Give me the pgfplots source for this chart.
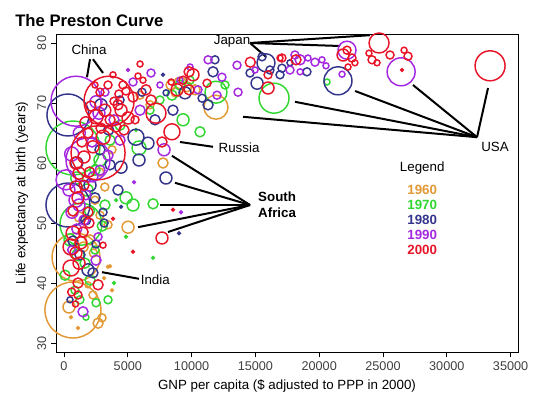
\documentclass[border=0pt]{standalone}
\usepackage{fontspec}
\setmainfont{Liberation Sans}
\usepackage{pgfplots}
\usepackage{pgfplotstable}
\pgfplotsset{compat=1.18}
\definecolor{c1960}{RGB}{226,152,52}
\definecolor{c1970}{RGB}{50,215,50}
\definecolor{c1980}{RGB}{52,52,140}
\definecolor{c1990}{RGB}{165,40,225}
\definecolor{c2000}{RGB}{232,20,40}

\pgfplotstableread{
x y r
700 35.5 28
940 44.3 24
11910 69.3 12
9090 73.3 6
9640 72.7 5
10270 72.2 5
8390 73.0 5
8780 71.8 5
7760 60.0 5
5020 49.3 6
3450 42.7 1.3
3140 40.8 1.3
390 36.0 6
2270 38.0 4
2670 33.3 5
1100 32.5 1.3
550 34.3 1.3
2980 34.2 4
5960 71.3 4
6740 69.7 4
3760 62.2 4
2430 53.8 4
2820 51.3 4
2040 47.2 5
3450 49.7 4
1880 39.7 3
3610 42.8 1.3
3760 38.8 1.3
1500 46.0 5
2300 45.0 4
1200 51.0 5
3200 56.0 4
2800 58.5 4
}\tA

\pgfplotstableread{
x y r
700 62.5 27
1330 49.8 21
16460 70.8 15
11910 71.8 11
9330 67.2 6
10660 65.2 5
20610 73.5 3
5880 62.5 7
5640 65.5 1.3
4860 54.2 6
5410 53.0 6
6980 53.2 5
4080 53.8 1.3
4860 47.7 1.3
6980 44.2 1.3
3920 40.0 1.3
3450 37.2 4
2510 36.7 4
1720 34.3 3
470 47.2 6
1100 44.7 6
1650 43.3 5
80 41.3 5
2040 40.5 5
860 38.8 4
1250 37.2 4
2430 45.5 4
9090 73.0 5
8460 71.3 5
9880 73.8 4
12620 73.0 4
4390 66.3 5
3610 63.8 5
2820 60.5 6
2430 58.8 5
6740 68.8 4
7520 70.5 4
3210 53.0 5
1800 55.5 6
1000 57.5 6
3000 49.5 5
2000 52.0 5
}\tB

\pgfplotstableread{
x y r
310 68.0 21
310 53.0 22
21470 73.7 14
15830 76.7 9
11830 77.2 4
11680 75.2 5
17080 75.8 4
16930 74.7 4
14580 75.0 4
15130 73.3 6
9480 71.7 6
10820 70.8 4
11290 69.7 5
8540 68.8 5
15520 77.7 4
16140 75.5 4
19040 75.2 4
17710 76.7 3
7760 74.7 1.3
5640 64.3 8
6580 63.3 6
5880 60.5 6
7990 57.5 6
4470 59.3 6
4470 52.7 1.3
3060 51.8 4
1880 42.2 6
2270 41.7 5
9010 48.3 1.3
3140 50.0 4
6110 71.8 4
4390 70.5 4
7130 67.2 5
2820 62.2 5
3610 59.7 5
2040 56.3 6
2430 54.2 5
4230 55.5 5
470 37.2 3
1250 44.7 5
2900 69.7 6
8000 71.7 3
1000 60.0 6
1700 50.5 5
700 47.0 5
2500 46.5 4
3500 65.5 5
}\tC

\pgfplotstableread{
x y r
940 70.3 25
1880 60.5 22
26420 75.2 14
22180 78.8 9
18100 78.0 4
18500 77.2 5
19120 77.5 3
19670 76.8 4
20220 77.2 3
17710 75.5 4
18500 75.2 3
20530 76.2 3
21790 74.8 3
12380 74.3 4
13560 76.3 4
14970 75.5 3
11990 71.3 4
13640 71.8 4
10500 72.2 4
5020 75.5 1.3
6820 75.0 4
5410 73.5 4
2510 70.2 6
2740 68.3 6
3920 67.2 5
7840 62.2 6
5490 56.8 1.3
390 55.5 6
940 53.8 7
1720 54.7 5
630 51.8 6
1570 50.5 5
1180 53.0 6
2510 43.8 5
1490 35.2 5
9170 51.8 1.3
11290 77.2 4
5960 68.8 5
4390 63.8 5
3450 61.3 5
2820 58.8 5
2270 57.7 5
3210 71.8 4
7520 73.0 3
9090 73.8 3
9880 76.0 3
160 57.2 10
2670 47.7 4
1200 65.0 6
600 61.5 7
2200 63.5 5
1000 49.0 5
600 45.5 4
}\tD

\pgfplotstableread{
x y r
3530 70.3 25
2670 61.7 27
33390 76.2 15
24690 80.0 10
22180 78.8 4
22570 77.5 4
22800 76.7 3
22260 76.0 3
21870 78.0 6
23900 78.3 3
24140 77.2 4
24530 76.7 3
25550 78.0 4
26650 78.8 3
26960 77.8 4
26490 75.5 1.3
17080 77.5 4
18180 77.2 5
14600 76.8 5
15990 74.7 4
15990 72.5 6
16930 77.5 3
9800 75.2 5
8860 72.2 6
11210 73.3 4
8460 65.2 8
7680 63.5 5
10110 74.7 6
8400 73.5 3
9800 72.2 5
9330 73.8 4
3840 74.7 3
3450 73.0 4
4620 73.0 4
6190 73.8 3
6430 72.2 5
5410 71.0 5
6820 70.5 5
7210 68.3 10
4470 68.8 6
5020 67.5 6
4080 66.0 5
2510 67.7 7
1720 66.7 6
3060 64.3 7
2270 62.7 6
1570 61.0 6
940 60.0 6
1180 58.3 6
940 56.0 6
1570 56.3 5
1100 54.2 6
1880 51.8 5
1960 50.0 5
710 48.3 7
1330 46.7 6
550 46.0 8
940 45.0 6
550 42.5 8
1180 43.3 6
2670 39.7 5
1100 40.0 5
1100 38.0 4
5410 45.2 1.3
8540 52.2 1.3
3840 50.7 1.3
3060 46.3 3
7680 47.5 6
4860 72.0 4
5800 74.5 3
3920 70.3 4
2820 71.8 4
2430 73.0 3
4230 69.7 5
3610 67.2 5
4700 65.5 5
2900 65.8 5
1880 65.0 5
5570 67.2 4
5960 76.5 3
2100 69.5 5
3200 68.8 6
4300 71.5 4
1400 63.5 5
2000 58.5 5
700 52.0 5
1500 48.5 5
600 38.5 4
900 36.5 3
}\tE

\pgfplotsset{
  bubble/.style={scatter, only marks, mark=o, line width=1.1pt,
    scatter/use mapped color={draw=#1},
    visualization depends on={0.75*\thisrow{r} \as \perpointmarksize},
    scatter/@pre marker code/.append style={/tikz/mark size=\perpointmarksize}},
}

\begin{document}
\begin{tikzpicture}
\path[use as bounding box] (-42pt,-30pt) rectangle (358.5pt,264pt);
\begin{axis}[
  at={(0pt,0pt)}, anchor=south west, scale only axis,
  width=346.5pt, height=238.5pt,
  xmin=-627, xmax=35580, ymin=28.5, ymax=81.5,
  xtick={0,5000,...,35000}, ytick={30,40,...,80},
  tick pos=left, tick align=outside,
  major tick length=3.75pt,
  tick style={black, line width=0.6pt},
  axis line style={line width=0.7pt},
  scaled x ticks=false,
  xticklabel style={/pgf/number format/1000 sep={}},
  ticklabel style={font=\fontsize{9.5}{10}\selectfont, text=black!75},
  /pgf/number format/assume math mode=true,
  yticklabel style={rotate=90, anchor=south},
  xlabel={GNP per capita (\$ adjusted to PPP in 2000)},
  ylabel={Life expectancy at birth (years)},
  label style={font=\fontsize{10}{12}\selectfont},
  clip=true,
]
\addplot[bubble=c1960] table[x=x,y=y] {\tA};
\addplot[bubble=c1970] table[x=x,y=y] {\tB};
\addplot[bubble=c1980] table[x=x,y=y] {\tC};
\addplot[bubble=c1990] table[x=x,y=y] {\tD};
\addplot[bubble=c2000] table[x=x,y=y] {\tE};

% annotations
\begin{scope}[line width=1.5pt, black]
\draw (2040,77.3) -- (1800,74.3);
\draw (2270,77.3) -- (3060,75);
\draw (14580,80) -- (23980,81.3);
\draw (14580,80) -- (21630,79.5);
\draw (14580,80) -- (15830,77.7);
\draw (32370,64.3) -- (33230,72.5);
\draw (32370,64.3) -- (27350,73);
\draw (32370,64.3) -- (22810,72);
\draw (32370,64.3) -- (18100,70.2);
\draw (32370,64.3) -- (14030,67.7);
\draw (9090,63.5) -- (11680,62.7);
\draw (14580,53) -- (8460,61.2);
\draw (14580,53) -- (8700,56.7);
\draw (14580,53) -- (7520,53);
\draw (14580,53) -- (5800,49.3);
\draw (14580,53) -- (8150,48.5);
\draw (2980,41.8) -- (5880,40.7);
\end{scope}
\begin{scope}[every node/.style={font=\fontsize{10}{12}\selectfont, inner sep=0pt}]
\node at (1960,78.8) {China};
\node at (13170,80.2) {Japan};
\node at (33780,62.7) {USA};
\node[anchor=west] at (12100,62.5) {Russia};
\node[anchor=west, align=left, font=\bfseries\fontsize{10}{12}\selectfont] at (15200,53) {South\\Africa};
\node[anchor=west] at (6000,40.5) {India};
\node at (28070,59.2) {Legend};
\node[text=c1960, font=\bfseries\fontsize{10}{12}\selectfont] at (28070,55.5) {1960};
\node[text=c1970, font=\bfseries\fontsize{10}{12}\selectfont] at (28070,53) {1970};
\node[text=c1980, font=\bfseries\fontsize{10}{12}\selectfont] at (28070,50.5) {1980};
\node[text=c1990, font=\bfseries\fontsize{10}{12}\selectfont] at (28070,48) {1990};
\node[text=c2000, font=\bfseries\fontsize{10}{12}\selectfont] at (28070,45.5) {2000};
\end{scope}
\end{axis}
\node[anchor=base west, font=\bfseries\fontsize{12.5}{14}\selectfont, inner sep=0pt] at (-30.75pt,243.75pt) {The Preston Curve};
\end{tikzpicture}
\end{document}
